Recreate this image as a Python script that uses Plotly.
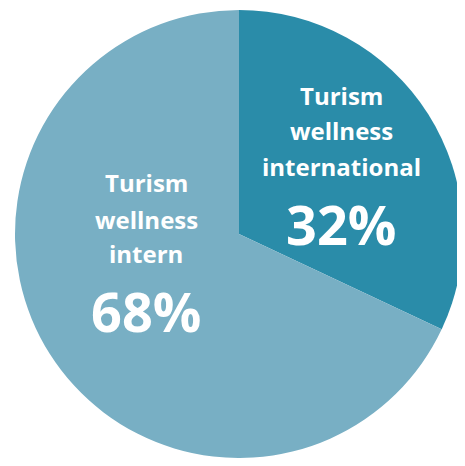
import plotly.graph_objects as go

# data
labels = ["Turism wellness international", "Turism wellness intern"]
values = [32, 68]
colors = ["#2A8CA9", "#78AFC4"]

OFF = 8  # the page body keeps its default 8px margin
W, H = 465 - OFF, 466 - 2 * OFF  # keep the page from scrolling
FONT = "'Open Sans', sans-serif"


def px_x(x):
    return (x - OFF) / W


def px_y(y):
    return 1 - (y - OFF) / H


fig = go.Figure(go.Pie(
    labels=labels,
    values=values,
    sort=False,
    direction="clockwise",
    rotation=0,
    marker=dict(colors=colors, line=dict(width=0)),
    textinfo="none",
    hoverinfo="label+percent",
    domain=dict(x=[px_x(15), px_x(463)], y=[px_y(458), px_y(10)]),
    showlegend=False,
))

# label blocks: (x centre px, line centres px, percent centre px)
blocks = [
    (341, [95, 131, 167], 224),
    (146, [182, 219, 254], 311),
]
total = sum(values)
annotations = []
for label, val, (cx, line_ys, py) in zip(labels, values, blocks):
    for word, ly in zip(label.split(" "), line_ys):
        annotations.append(dict(
            text=f"<b>{word}</b>", x=px_x(cx), y=px_y(ly),
            xref="paper", yref="paper", showarrow=False,
            xanchor="center", yanchor="middle",
            font=dict(family=FONT, size=24, color="white"),
        ))
    annotations.append(dict(
        text=f"<b>{round(val / total * 100)}%</b>", x=px_x(cx), y=px_y(py),
        xref="paper", yref="paper", showarrow=False,
        xanchor="center", yanchor="middle",
        font=dict(family=FONT, size=54, color="white"),
    ))

fig.update_layout(
    width=W, height=H,
    margin=dict(l=0, r=0, t=0, b=0),
    paper_bgcolor="white",
    plot_bgcolor="white",
    annotations=annotations,
)

fig.write_html("out.html")
